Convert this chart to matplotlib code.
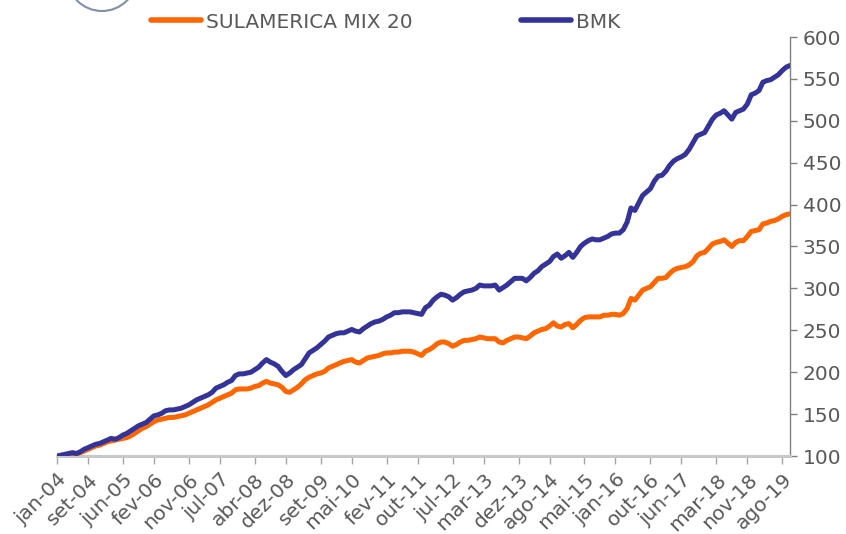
import matplotlib
matplotlib.use("Agg")
import matplotlib.pyplot as plt
from matplotlib.patches import Ellipse

# Monthly index values, jan-04 .. out-19
bmk = [
    100, 101, 102, 103, 104, 103, 105, 108, 110, 112,
    114, 115, 117, 119, 121, 120, 122, 125, 127, 130,
    133, 136, 138, 140, 144, 148, 149, 151, 154, 155,
    155, 156, 157, 159, 161, 164, 167, 169, 171, 173,
    176, 181, 183, 185, 188, 190, 196, 198, 198, 199,
    200, 203, 206, 211, 215, 212, 210, 207, 201, 196,
    199, 203, 206, 209, 216, 223, 226, 229, 233, 237,
    242, 244, 246, 247, 247, 249, 251, 249, 248, 252,
    255, 258, 260, 261, 263, 266, 268, 271, 271, 272,
    272, 272, 271, 270, 269, 277, 280, 286, 290, 293,
    292, 290, 286, 289, 293, 296, 297, 298, 300, 304,
    303, 303, 303, 304, 298, 301, 304, 308, 312, 312,
    312, 309, 313, 318, 321, 326, 329, 332, 338, 341,
    336, 339, 343, 337, 343, 350, 354, 357, 359, 358,
    358, 360, 362, 365, 366, 366, 370, 379, 396, 393,
    402, 411, 415, 419, 428, 434, 435, 440, 447, 452,
    455, 457, 460, 466, 474, 482, 484, 486, 494, 502,
    507, 509, 512, 507, 502, 510, 512, 514, 520, 531,
    533, 536, 546, 548, 549, 552, 555, 560, 564, 566,
]
sula = [
    100, 100, 101, 102, 103, 102, 104, 106, 108, 110,
    112, 113, 115, 117, 118, 119, 120, 121, 122, 124,
    127, 130, 133, 135, 138, 141, 143, 144, 145, 146,
    146, 147, 148, 149, 151, 153, 155, 157, 159, 161,
    164, 167, 169, 171, 173, 175, 179, 180, 180, 180,
    181, 183, 184, 187, 189, 187, 186, 185, 182, 177,
    176, 179, 182, 186, 191, 194, 196, 198, 199, 201,
    205, 207, 209, 211, 213, 214, 215, 212, 211, 214,
    217, 218, 219, 220, 222, 223, 223, 224, 224, 225,
    225, 225, 224, 222, 220, 225, 227, 230, 234, 236,
    236, 234, 231, 233, 236, 238, 238, 239, 240, 242,
    241, 240, 240, 240, 236, 235, 238, 240, 242, 242,
    241, 240, 243, 247, 249, 251, 252, 255, 259, 255,
    254, 257, 258, 253, 257, 262, 265, 266, 266, 266,
    266, 268, 268, 269, 269, 268, 270, 276, 288, 286,
    292, 298, 300, 302, 307, 312, 312, 313, 318, 322,
    324, 325, 326, 328, 332, 339, 342, 343, 348, 353,
    355, 356, 358, 354, 350, 355, 357, 357, 362, 368,
    369, 370, 377, 378, 380, 381, 383, 386, 388, 389,
]
tick_labels = ["jan-04", "set-04", "jun-05", "fev-06", "nov-06", "jul-07",
               "abr-08", "dez-08", "set-09", "mai-10", "fev-11", "out-11",
               "jul-12", "mar-13", "dez-13", "ago-14", "mai-15", "jan-16",
               "out-16", "jun-17", "mar-18", "nov-18", "ago-19"]
y_ticks = [100, 150, 200, 250, 300, 350, 400, 450, 500, 550, 600]

months_pt = ["jan", "fev", "mar", "abr", "mai", "jun",
             "jul", "ago", "set", "out", "nov", "dez"]
month_labels = [f"{months_pt[i % 12]}-{(4 + i // 12):02d}" for i in range(len(bmk))]
tick_pos = [month_labels.index(l) for l in tick_labels]

TXT = "#595959"
FS = 14.5
W, H = 846, 534
fig = plt.figure(figsize=(W / 100, H / 100), dpi=100)
ax = fig.add_axes([57 / W, 78 / H, 733 / W, 419 / H])

x = list(range(len(bmk)))
l1, = ax.plot(x, sula, color="#FF6600", lw=3.6, solid_capstyle="round", solid_joinstyle="round", zorder=3)
l2, = ax.plot(x, bmk, color="#333399", lw=3.6, solid_capstyle="round", solid_joinstyle="round", zorder=4)

ax.set_xlim(0, len(bmk) - 1)
ax.set_ylim(100, 600)
ax.set_yticks(y_ticks)
ax.yaxis.tick_right()
ax.tick_params(axis="y", direction="out", length=5, width=1, color="#808080",
               labelcolor=TXT, labelsize=FS, pad=4)
ax.set_xticks(tick_pos)
ax.set_xticklabels(tick_labels, rotation=45, ha="right", rotation_mode="anchor")
ax.tick_params(axis="x", direction="out", length=6, width=1, color="#a6a6a6",
               labelcolor=TXT, labelsize=FS, pad=4)

for s in ["top", "left"]:
    ax.spines[s].set_visible(False)
ax.spines["right"].set_color("#808080")
ax.spines["right"].set_linewidth(1)
ax.spines["bottom"].set_color("#c8c8c8")
ax.spines["bottom"].set_linewidth(2.2)

leg = fig.legend([l1, l2], ["SULAMERICA MIX 20", "BMK"], ncol=2, frameon=False,
                 loc="center left", bbox_to_anchor=(151 / W, 1 - 22 / H),
                 borderpad=0, borderaxespad=0, handlelength=2.5, handletextpad=0.25,
                 columnspacing=5.35, fontsize=FS, labelcolor=TXT)
for h in leg.legend_handles:
    h.set_linewidth(4)
    h.set_solid_capstyle("round")

# partial logo circle at the top-left
fig.patches.append(Ellipse((102 / W, 1 + 24 / H), 70 / W, 70 / H, transform=fig.transFigure,
                           fill=False, edgecolor="#8090a8", lw=1.5, clip_on=False))

fig.savefig("out.png", dpi=100)
